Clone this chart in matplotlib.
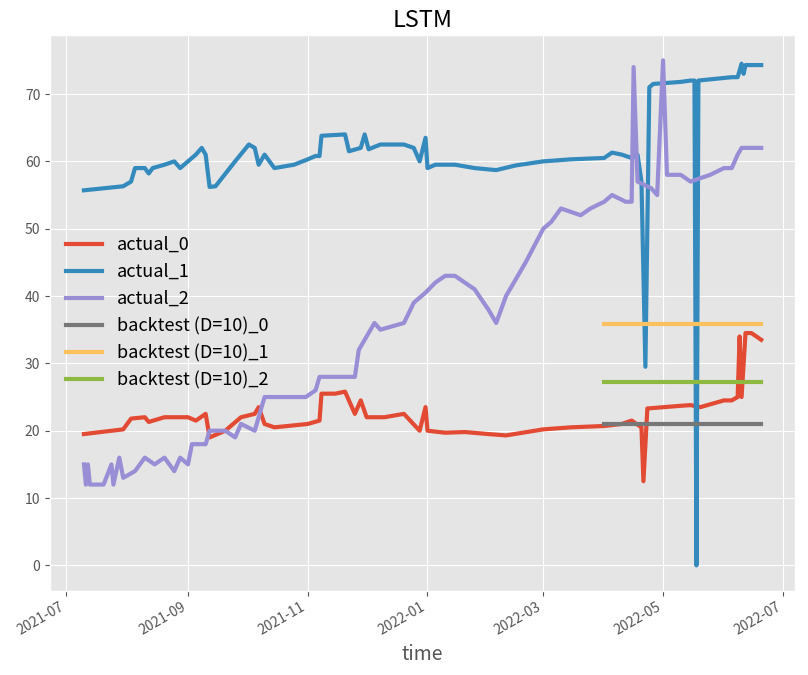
import numpy as np
import pandas as pd
import matplotlib
matplotlib.use("Agg")
import matplotlib.pyplot as plt
import matplotlib.dates as mdates
from matplotlib import font_manager

plt.style.use("ggplot")
available = {f.name for f in font_manager.fontManager.ttflist}
for name in ["Noto Sans Mono CJK SC", "Noto Sans CJK SC", "Noto Sans CJK JP", "DejaVu Sans"]:
    if name in available:
        plt.rcParams["font.family"] = name
        break

a1_dates = ["2021-07-10","2021-07-20","2021-07-30","2021-08-03","2021-08-05","2021-08-10","2021-08-12","2021-08-14","2021-08-20","2021-08-25","2021-08-28","2021-09-01","2021-09-05","2021-09-08","2021-09-10","2021-09-12","2021-09-15","2021-09-25","2021-10-02","2021-10-05","2021-10-07","2021-10-10","2021-10-15","2021-10-25","2021-11-01","2021-11-05","2021-11-07","2021-11-08","2021-11-20","2021-11-22","2021-11-28","2021-11-30","2021-12-02","2021-12-08","2021-12-20","2021-12-25","2021-12-28","2021-12-31","2022-01-01","2022-01-05","2022-01-15","2022-01-25","2022-02-05","2022-02-15","2022-03-01","2022-03-15","2022-04-01","2022-04-05","2022-04-10","2022-04-15","2022-04-18","2022-04-20","2022-04-22","2022-04-24","2022-04-26","2022-05-10","2022-05-15","2022-05-17","2022-05-18","2022-05-19","2022-06-05","2022-06-08","2022-06-10","2022-06-11","2022-06-12","2022-06-20"]
a1_vals = [55.7,56,56.3,57,59,59,58.2,59,59.5,60,59,60,61,62,61,56.2,56.3,60,62.5,62,59.5,61,59,59.5,60.3,60.8,60.8,63.8,64,61.5,62,64,61.8,62.5,62.5,62,60,63.5,59,59.5,59.5,59,58.7,59.4,60,60.3,60.5,61.3,61,60.5,61,57,29.5,71,71.5,71.8,72,72,0,72,72.5,72.5,74.5,73,74.3,74.3]

a0_dates = ["2021-07-10","2021-07-30","2021-08-03","2021-08-10","2021-08-12","2021-08-20","2021-09-01","2021-09-05","2021-09-10","2021-09-12","2021-09-20","2021-09-28","2021-10-05","2021-10-07","2021-10-10","2021-10-15","2021-11-01","2021-11-07","2021-11-08","2021-11-15","2021-11-20","2021-11-25","2021-11-28","2021-12-01","2021-12-10","2021-12-20","2021-12-28","2021-12-31","2022-01-01","2022-01-10","2022-01-20","2022-02-01","2022-02-10","2022-03-01","2022-03-15","2022-04-01","2022-04-10","2022-04-15","2022-04-20","2022-04-21","2022-04-23","2022-05-10","2022-05-15","2022-05-20","2022-06-01","2022-06-05","2022-06-08","2022-06-09","2022-06-10","2022-06-12","2022-06-15","2022-06-20"]
a0_vals = [19.5,20.2,21.8,22,21.3,22,22,21.5,22.5,19,20,22,22.5,23.5,21,20.5,21,21.5,25.5,25.5,25.8,22.5,24.5,22,22,22.5,20,23.5,20,19.7,19.8,19.5,19.3,20.2,20.5,20.7,21,21.5,20.5,12.5,23.3,23.7,23.8,23.5,24.5,24.5,25,34,25,34.5,34.5,33.5]

a2_dates = ["2021-07-10","2021-07-11","2021-07-12","2021-07-13","2021-07-20","2021-07-24","2021-07-25","2021-07-28","2021-07-30","2021-08-05","2021-08-10","2021-08-15","2021-08-20","2021-08-25","2021-08-28","2021-09-01","2021-09-03","2021-09-10","2021-09-12","2021-09-20","2021-09-25","2021-09-28","2021-10-05","2021-10-10","2021-10-31","2021-11-05","2021-11-07","2021-11-25","2021-11-27","2021-12-05","2021-12-08","2021-12-20","2021-12-25","2021-12-31","2022-01-05","2022-01-10","2022-01-15","2022-01-25","2022-02-01","2022-02-05","2022-02-10","2022-02-20","2022-03-01","2022-03-05","2022-03-10","2022-03-20","2022-03-25","2022-04-01","2022-04-05","2022-04-12","2022-04-15","2022-04-16","2022-04-18","2022-04-25","2022-04-28","2022-05-01","2022-05-03","2022-05-10","2022-05-15","2022-05-25","2022-06-01","2022-06-05","2022-06-08","2022-06-10","2022-06-20"]
a2_vals = [15,12,15,12,12,15,12,16,13,14,16,15,16,14,16,15,18,18,20,20,19,21,20,25,25,26,28,28,32,36,35,36,39,40.5,42,43,43,41,38,36,40,45,50,51,53,52,53,54,55,54,54,74,57,56,55,75,58,58,57,58,59,59,61,62,62]

bt_dates = ["2022-04-01", "2022-06-20"]
bt0 = [21, 21]
bt1 = [35.8, 35.8]
bt2 = [27.2, 27.2]

fig, ax = plt.subplots(figsize=(8.08, 6.75), dpi=100)
lw = 3
ax.plot(pd.to_datetime(a0_dates), a0_vals, lw=lw, color="#E24A33", label="actual_0")
ax.plot(pd.to_datetime(a1_dates), a1_vals, lw=lw, color="#348ABD", label="actual_1")
ax.plot(pd.to_datetime(a2_dates), a2_vals, lw=lw, color="#988ED5", label="actual_2")
ax.plot(pd.to_datetime(bt_dates), bt0, lw=lw, color="#777777", label="backtest (D=10)_0")
ax.plot(pd.to_datetime(bt_dates), bt1, lw=lw, color="#FBC15E", label="backtest (D=10)_1")
ax.plot(pd.to_datetime(bt_dates), bt2, lw=lw, color="#8EBA42", label="backtest (D=10)_2")

ax.xaxis.set_major_locator(mdates.MonthLocator(bymonth=[1, 3, 5, 7, 9, 11]))
ax.xaxis.set_major_formatter(mdates.DateFormatter("%Y-%m"))
ax.set_title("LSTM", fontsize=17)
ax.set_xlabel("time", fontsize=14)
ax.legend(loc="center left", bbox_to_anchor=(0.0, 0.5), frameon=False, fontsize=13)
fig.autofmt_xdate()
fig.subplots_adjust(left=0.062, right=0.984, top=0.948, bottom=0.125)
fig.savefig("out.png")
